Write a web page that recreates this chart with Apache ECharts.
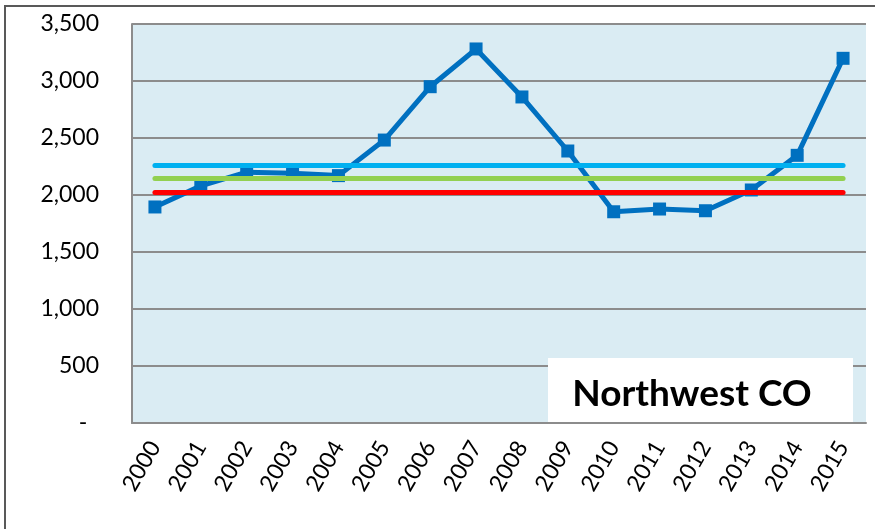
<!DOCTYPE html>
<html>
<head>
<meta charset="utf-8">
<script src="https://cdn.jsdelivr.net/npm/echarts@6/dist/echarts.min.js"></script>
<style>
  html, body { margin: 0; padding: 0; background: #fff; }
  #chartBox { width: 875px; height: 529px; }
</style>
</head>
<body>
<div id="chartBox"></div>
<script>
  // data
  var years = ['2000', '2001', '2002', '2003', '2004', '2005', '2006', '2007',
               '2008', '2009', '2010', '2011', '2012', '2013', '2014', '2015'];
  var values = [1895, 2080, 2200, 2190, 2170, 2482, 2950, 3281,
                2860, 2386, 1853, 1877, 1862, 2044, 2348, 3199];
  // horizontal reference levels: cyan, green, red
  var levelValues = [2257, 2146, 2020];
  var levelColors = ['#00B0F0', '#92D050', '#FF0000'];
  var yTicks = [0, 500, 1000, 1500, 2000, 2500, 3000, 3500];
  var chartTitle = 'Northwest CO';

  var chart = echarts.init(document.getElementById('chartBox'));

  var levelSeries = levelValues.map(function (v, i) {
    return {
      type: 'line',
      data: [],
      z: 3,
      silent: true,
      markLine: {
        symbol: 'none',
        silent: true,
        label: { show: false },
        lineStyle: { color: levelColors[i], width: 5, type: 'solid', cap: 'round' },
        data: [[{ coord: [years[0], v] }, { coord: [years[years.length - 1], v] }]]
      }
    };
  });

  var option = {
    animation: false,
    textStyle: { fontFamily: 'Lato' },
    grid: {
      left: 132, top: 24, width: 734, height: 399,
      show: true, backgroundColor: '#DAECF3', borderWidth: 0
    },
    xAxis: {
      type: 'category',
      data: years,
      boundaryGap: true,
      axisLine: { lineStyle: { color: '#8C8C8C', width: 2 } },
      axisTick: { show: false },
      axisLabel: { rotate: 60, fontSize: 23, color: '#000', margin: 20, fontFamily: 'Lato' }
    },
    yAxis: {
      type: 'value',
      min: 0, max: 3500, interval: 500,
      axisLine: { show: true, lineStyle: { color: '#8C8C8C', width: 2 } },
      axisTick: { show: false },
      splitLine: { lineStyle: { color: '#8C8C8C', width: 2 } },
      axisLabel: {
        fontSize: 23, color: '#000', margin: 33, fontFamily: 'Lato',
        formatter: function (v) {
          if (yTicks.indexOf(v) < 0) return '';
          return v === 0 ? '-  ' : v.toLocaleString('en-US');
        }
      }
    },
    graphic: [
      {
        type: 'rect', z: 100, silent: true,
        shape: { x: 5, y: 6, width: 880, height: 540 },
        style: { fill: 'none', stroke: '#595959', lineWidth: 2 }
      },
      {
        type: 'rect', z: 100, silent: true,
        shape: { x: 548, y: 358, width: 305, height: 64 },
        style: { fill: '#fff' }
      },
      {
        type: 'text', z: 101, silent: true,
        x: 692, y: 394,
        style: {
          text: chartTitle, fill: '#000', font: 'bold 37px Lato',
          align: 'center', verticalAlign: 'middle'
        }
      }
    ],
    series: [
      {
        name: 'Northwest CO',
        type: 'line',
        data: values,
        z: 2,
        symbol: 'rect',
        symbolSize: 13,
        itemStyle: { color: '#0070C0' },
        lineStyle: { color: '#0070C0', width: 5 }
      }
    ].concat(levelSeries)
  };

  chart.setOption(option);
  window.onresize = chart.resize;
</script>
</body>
</html>
